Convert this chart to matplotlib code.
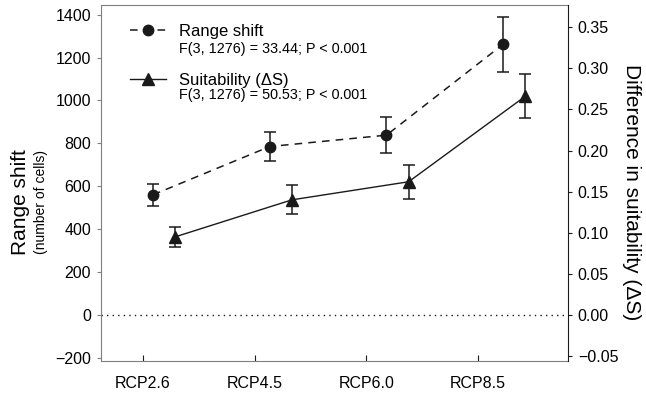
import numpy as np
import matplotlib.pyplot as plt
from matplotlib.lines import Line2D

plt.rcParams['font.family'] = ['Liberation Sans', 'DejaVu Sans']

# ---------------------------------------------------------
# Data
# ---------------------------------------------------------
scenarios = ['RCP2.6', 'RCP4.5', 'RCP6.0', 'RCP8.5']
range_shift = [560, 785, 838, 1262]
range_shift_err = [51, 67, 84, 128]
suitability = [0.095, 0.140, 0.162, 0.266]
suitability_err = [0.012, 0.0175, 0.0205, 0.027]

f_range = 'F(3, 1276) = 33.44; P < 0.001'
f_suit = 'F(3, 1276) = 50.53; P < 0.001'

ink = '#1a1a1a'
spine_grey = '#7f7f7f'
dash = (0, (5, 4))

fig = plt.figure(figsize=(6.46, 3.97), dpi=100)
ax = fig.add_axes([0.1563, 0.0907, 0.7230, 0.8967])

# category axis
idx = np.arange(len(scenarios))
ax.set_xlim(-0.376, 3.805)
ax.set_xticks(idx)
ax.set_xticklabels(scenarios, fontsize=11.5)
ax.tick_params(axis='x', direction='in', length=4, pad=11, color=ink)
ax.set_ylim(-215, 1445)
ax.set_yticks(np.arange(-200, 1401, 200))
ax.tick_params(axis='y', direction='out', length=3, pad=4, labelsize=11.5, color=spine_grey)
for s in ['left', 'bottom', 'top']:
    ax.spines[s].set_color(spine_grey)
ax.spines['right'].set_visible(False)
ax.axhline(0, color=ink, linestyle=(0, (1, 3)), linewidth=1)

# right axis for suitability
ax2 = ax.twinx()
ax2.set_ylim(-0.056, 0.377)
right_ticks = np.arange(-0.05, 0.351, 0.05)
ax2.set_yticks(right_ticks)
ax2.set_yticklabels([f'{v:.2f}'.replace('-', '\u2212') for v in right_ticks])
ax2.tick_params(axis='y', direction='out', length=3, pad=4, labelsize=11.5, color=ink)
ax2.spines['right'].set_color(ink)
for s in ['left', 'bottom', 'top']:
    ax2.spines[s].set_visible(False)

# data sit on their own (hidden) x scale, a bit off the tick positions
axd_l = ax.twiny()
axd_r = ax2.twiny()
for a in (axd_l, axd_r):
    a.set_xlim(-0.446, 3.556)
    a.set_xticks([])
    for s in a.spines.values():
        s.set_visible(False)

axd_l.errorbar(idx, range_shift, yerr=range_shift_err, color=ink, linestyle=dash,
               linewidth=1.1, marker='o', markersize=7.5, capsize=4.5, elinewidth=1.1, capthick=1.1)
axd_r.errorbar(idx + 0.19, suitability, yerr=suitability_err, color=ink, linestyle='-',
               linewidth=1, marker='^', markersize=8, capsize=4.5, elinewidth=1.1, capthick=1.1)

# axis labels
fig.text(0.031, 0.49, 'Range shift', rotation=90, ha='center', va='center', fontsize=15)
fig.text(0.064, 0.49, '(number of cells)', rotation=90, ha='center', va='center', fontsize=10)
fig.text(0.978, 0.515, 'Difference in suitability (\u0394S)', rotation=-90,
         ha='center', va='center', fontsize=15)

# legend
handles = [Line2D([], [], color=ink, linestyle=dash, marker='o', markersize=7.5, linewidth=1.1),
           Line2D([], [], color=ink, linestyle='-', marker='^', markersize=8, linewidth=1)]
ax.legend(handles, ['Range shift', 'Suitability (\u0394S)'], loc='upper left',
          bbox_to_anchor=(0.030, 0.989), frameon=False, fontsize=12,
          handlelength=2.15, handletextpad=0.78, labelspacing=2.05)
fig.text(0.277, 0.877, f_range, fontsize=10.4, va='center')
fig.text(0.277, 0.761, f_suit, fontsize=10.4, va='center')

fig.savefig('out.png', dpi=100)
